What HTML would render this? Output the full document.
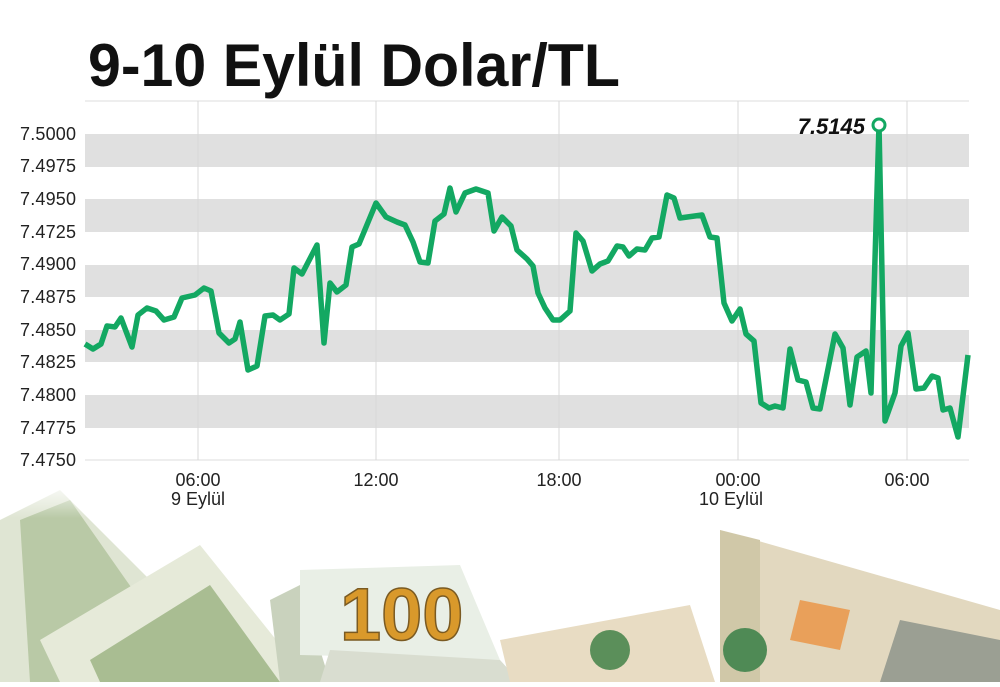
<!DOCTYPE html>
<html><head><meta charset="utf-8"><style>
body{margin:0;width:1000px;height:682px;overflow:hidden;background:#fff;font-family:"Liberation Sans",sans-serif}
</style></head><body>
<svg width="1000" height="682" xmlns="http://www.w3.org/2000/svg">
<defs>
<linearGradient id="fade" x1="0" y1="0" x2="0" y2="1"><stop offset="0" stop-color="#fff" stop-opacity="1"/><stop offset="1" stop-color="#fff" stop-opacity="0"/></linearGradient>
</defs>
<g>
<polygon points="0,520 60,490 150,580 60,682 0,682" fill="#dfe5d3"/>
<polygon points="20,520 70,500 140,600 90,682 30,682" fill="#b9c9a6"/>
<polygon points="40,640 200,545 310,682 60,682" fill="#e6ead9"/>
<polygon points="90,660 210,585 280,682 100,682" fill="#a9bd92"/>
<polygon points="270,600 300,585 330,682 280,682" fill="#c9d2bd"/>
<polygon points="300,570 460,565 500,660 300,655" fill="#e9efe6"/>
<text x="340" y="640" font-size="74" font-weight="bold" fill="#d9992b" stroke="#7a5a22" stroke-width="1.5" font-family="Liberation Sans,sans-serif">100</text>
<polygon points="330,650 500,660 520,682 320,682" fill="#d9ddd0"/>
<polygon points="500,640 690,605 715,682 510,682" fill="#e8dcc3"/>
<circle cx="610" cy="650" r="20" fill="#5b8f5a"/>
<polygon points="720,530 1000,610 1000,682 720,682" fill="#e2d8bf"/>
<polygon points="720,530 760,540 760,682 720,682" fill="#d0c8a8"/>
<polygon points="800,600 850,610 840,650 790,640" fill="#e9a05a"/>
<circle cx="745" cy="650" r="22" fill="#4f8a55"/>
<polygon points="900,620 1000,640 1000,682 880,682" fill="#9b9f93"/>
<rect x="0" y="478" width="1000" height="40" fill="url(#fade)"/>
</g>
<g fill="#e0e0e0">
<rect x="85" y="134" width="884" height="33"/>
<rect x="85" y="199" width="884" height="33"/>
<rect x="85" y="265" width="884" height="32"/>
<rect x="85" y="330" width="884" height="32"/>
<rect x="85" y="395" width="884" height="33"/>
</g>
<line x1="85" y1="101" x2="969" y2="101" stroke="#ddd"/>
<line x1="85" y1="460" x2="969" y2="460" stroke="#ddd"/>
<g stroke="#d8d8d8" stroke-width="1">
<line x1="198" y1="101" x2="198" y2="460"/><line x1="376" y1="101" x2="376" y2="460"/>
<line x1="559" y1="101" x2="559" y2="460"/><line x1="738" y1="101" x2="738" y2="460"/>
<line x1="907" y1="101" x2="907" y2="460"/>
</g>
<text x="88" y="86" font-size="60" font-weight="bold" fill="#111" textLength="532" lengthAdjust="spacingAndGlyphs">9-10 Eylül Dolar/TL</text>
<g font-size="18" fill="#222" text-anchor="end">
<text x="76" y="140" textLength="56">7.5000</text><text x="76" y="172" textLength="56">7.4975</text><text x="76" y="205" textLength="56">7.4950</text>
<text x="76" y="238" textLength="56">7.4725</text><text x="76" y="270" textLength="56">7.4900</text><text x="76" y="303" textLength="56">7.4875</text>
<text x="76" y="336" textLength="56">7.4850</text><text x="76" y="368" textLength="56">7.4825</text><text x="76" y="401" textLength="56">7.4800</text>
<text x="76" y="434" textLength="56">7.4775</text><text x="76" y="466" textLength="56">7.4750</text>
</g>
<g font-size="18" fill="#222" text-anchor="middle">
<text x="198" y="486">06:00</text><text x="198" y="505">9 Eylül</text>
<text x="376" y="486">12:00</text><text x="559" y="486">18:00</text>
<text x="738" y="486">00:00</text><text x="731" y="505">10 Eylül</text>
<text x="907" y="486">06:00</text>
</g>
<polyline fill="none" stroke="#13a862" stroke-width="5.5" stroke-linejoin="round" points="85,344 93,349 101,344 107,326 115,327 121,318 132,347 138,315 147,308 156,311 164,320 174,317 182,298 195,295 204,288 211,291 219,333 229,343 235,339 240,322 248,370 257,366 265,316 273,315 280,320 289,314 294,268 302,274 317,245 324,343 330,283 337,292 346,285 352,247 359,244 376,203 386,217 397,222 405,225 413,242 420,262 428,263 435,221 444,214 450,188 456,212 465,193 476,189 488,193 494,231 502,217 511,226 517,250 527,259 533,266 538,293 545,308 553,320 560,320 570,311 576,233 583,241 592,271 600,264 608,261 617,246 623,247 629,256 637,249 645,250 652,238 659,237 667,195 674,198 680,218 702,215 710,237 717,238 724,303 732,321 740,309 746,334 754,341 761,403 769,408 775,406 783,408 790,349 798,380 806,382 813,408 820,409 835,334 843,348 850,405 857,357 866,351 871,393 879,125 885,421 895,393 901,346 908,333 916,389 924,388 932,376 938,378 943,410 950,408 958,437 968,355"/>
<circle cx="879" cy="125" r="6" fill="#fff" stroke="#13a862" stroke-width="3"/>
<text x="865" y="134" font-size="22" font-weight="bold" font-style="italic" fill="#111" text-anchor="end">7.5145</text>
</svg>
</body></html>
